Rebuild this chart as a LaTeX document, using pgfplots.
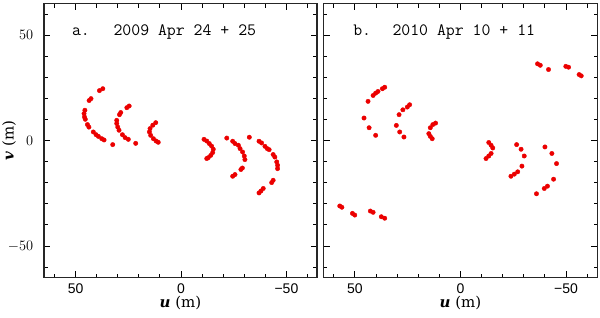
\documentclass[border=0pt]{standalone}
\usepackage{pgfplots}
\pgfplotsset{compat=1.18}
\usepackage{fontspec}
\newfontfamily\ticksf{Liberation Sans}
\newfontfamily\labf{DejaVu Serif}
\definecolor{dotred}{RGB}{235,0,0}
\pgfplotsset{
  uvaxis/.style={
    scale only axis,
    height=274.2pt,
    ymin=-65, ymax=65,
    x dir=reverse,
    clip=false,
    xtick={-50,0,50}, ytick={-50,0,50},
    minor xtick={-60,-40,-30,-20,-10,10,20,30,40,60},
    minor ytick={-60,-40,-30,-20,-10,10,20,30,40,60},
    tick align=inside,
    major tick length=6.5pt,
    minor tick length=4pt,
    axis line style={line width=1.2pt, black!85},
    every tick/.style={line width=1pt, black},
    tick label style={font=\ticksf\fontsize{14}{16}\selectfont},
    xticklabels={−50,0,50},
    xticklabel style={anchor=north, inner sep=0pt, yshift=-5.5pt},
    yticklabel style={anchor=east, inner sep=0pt, xshift=-10.5pt},
    every axis x label/.style={at={(axis description cs:0.5,0)}, anchor=center, yshift=-25.5pt, font=\labf\fontsize{15}{18}\selectfont},
    every axis y label/.style={at={(axis description cs:0,0.5)}, anchor=center, rotate=90, yshift=35pt, font=\labf\fontsize{15}{18}\selectfont},
    xlabel={\textbf{\textit{u}} (m)},
  },
  dots/.style={only marks, mark=*, mark size=2.2pt, color=dotred, mark options={draw=dotred, fill=dotred}},
}
\pgfplotstableread{
u v
37.1 24.6
38.7 23.7
42.7 19.9
43.6 19.0
45.6 14.4
46.0 12.8
45.8 11.2
45.4 10.1
44.4 7.6
43.7 6.4
41.6 4.1
40.3 2.8
39.2 2.0
37.6 0.9
36.5 0.3
32.4 -1.9
24.6 16.4
25.7 15.6
28.6 13.3
29.2 12.3
30.5 9.6
30.5 8.1
30.0 6.4
29.4 4.9
27.8 2.8
26.5 1.4
25.0 0.6
21.5 -1.3
12.0 8.5
13.4 7.3
14.7 5.7
15.0 4.1
14.4 2.5
13.1 0.9
11.8 -0.2
10.8 -0.8
-10.9 0.6
-12.2 -0.2
-13.4 -1.4
-14.5 -2.6
-15.3 -4.1
-15.0 -5.7
-14.1 -7.0
-12.9 -8.1
-12.2 -8.5
-21.7 1.2
-24.5 -0.3
-25.6 -1.4
-27.2 -2.2
-28.0 -3.8
-29.2 -5.4
-30.0 -7.3
-30.3 -9.0
-29.1 -13.0
-28.4 -13.7
-25.6 -16.1
-24.5 -16.9
-32.4 1.6
-37.0 -0.3
-38.2 -1.1
-39.8 -2.7
-40.9 -3.8
-41.8 -4.3
-43.7 -6.6
-44.5 -7.8
-45.4 -10.1
-45.8 -11.7
-45.8 -13.3
-43.7 -18.8
-43.0 -19.9
-39.0 -22.7
-37.9 -23.9
-37.0 -24.8
}\dataA
\pgfplotstableread{
u v
35.9 25.3
37.0 24.6
39.1 23.3
40.2 22.5
41.4 21.4
43.8 18.6
45.7 10.7
43.3 6.1
40.2 2.5
24.1 17.0
25.2 15.9
27.3 14.6
29.1 12.3
30.4 7.2
28.8 4.1
26.8 1.7
11.8 8.3
13.1 7.6
14.3 6.1
15.0 3.3
14.3 2.0
13.4 0.9
-13.4 -0.9
-14.5 -2.2
-15.3 -3.5
-14.5 -6.1
-13.4 -7.3
-12.1 -8.5
-26.6 -1.9
-28.7 -4.1
-30.2 -7.3
-29.1 -12.1
-27.1 -14.8
-25.5 -15.9
-23.9 -16.9
-40.0 -3.0
-43.3 -6.1
-45.5 -10.9
-44.1 -18.3
-41.2 -21.6
-39.7 -22.7
-36.0 -25.2
-36.5 36.4
-37.8 35.7
-41.7 33.7
-49.9 35.2
-51.2 34.8
-56.2 31.3
-57.2 30.7
57.2 -31.0
56.2 -31.6
51.2 -34.5
50.1 -35.3
42.7 -33.4
41.4 -34.0
37.5 -36.1
35.9 -36.8
}\dataB
\begin{document}
\begin{tikzpicture}
\path[use as bounding box] (-44pt,-39.3pt) rectangle (556pt,277.7pt);
\begin{axis}[uvaxis, width=273pt, xmin=-64.5, xmax=65,
  ylabel={\textbf{\textit{v}} (m)}]
\addplot[dots] table[x=u, y=v] {\dataA};
\node[anchor=base west, inner sep=0pt, font=\ttfamily\fontsize{17.3}{20}\selectfont] at (axis cs:51.8,50) {a.};
\node[anchor=base west, inner sep=0pt, font=\ttfamily\fontsize{17.3}{20}\selectfont] at (axis cs:32.1,50) {2009 Apr 24 + 25};
\end{axis}
\begin{axis}[uvaxis, at={(279.3pt,0pt)}, width=274.4pt, xmin=-65, xmax=65,
  yticklabels={}]
\addplot[dots] table[x=u, y=v] {\dataB};
\node[anchor=base west, inner sep=0pt, font=\ttfamily\fontsize{17.3}{20}\selectfont] at (axis cs:50.9,50) {b.};
\node[anchor=base west, inner sep=0pt, font=\ttfamily\fontsize{17.3}{20}\selectfont] at (axis cs:32.3,50) {2010 Apr 10 + 11};
\end{axis}
\end{tikzpicture}
\end{document}
